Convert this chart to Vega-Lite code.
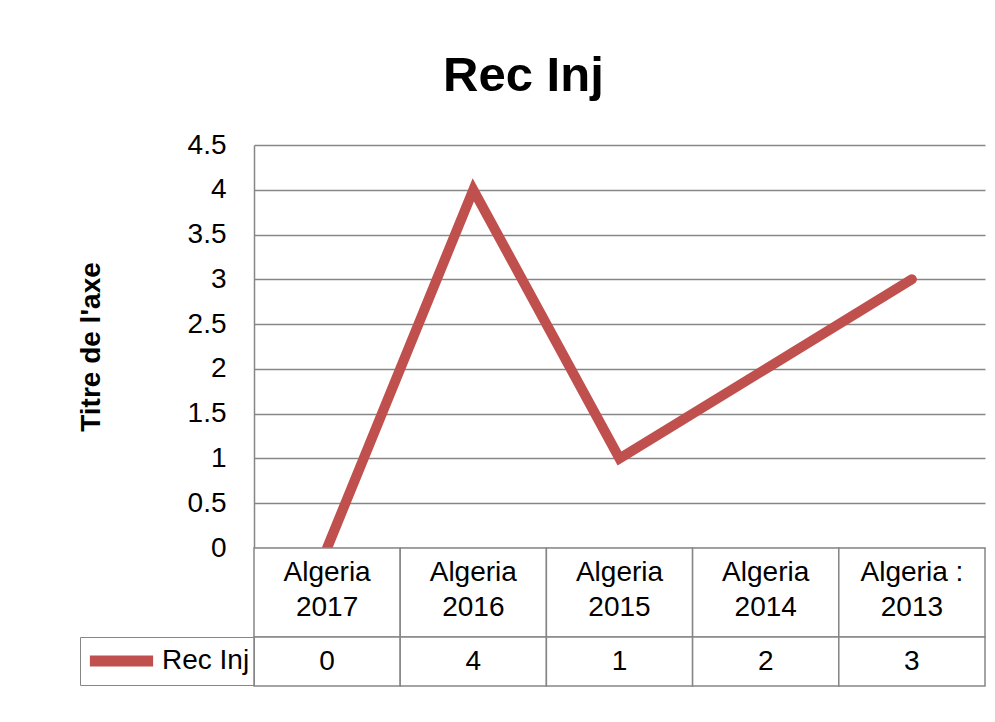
{
  "$schema": "https://vega.github.io/schema/vega-lite/v6.json",
  "background": "white",
  "padding": {"left": 77, "top": 52, "right": 10, "bottom": 10},
  "config": {
    "view": {"stroke": null},
    "font": "Liberation Sans",
    "text": {"font": "Liberation Sans"}
  },
  "title": {
    "text": "Rec Inj",
    "fontSize": 49,
    "fontWeight": "bold",
    "font": "Liberation Sans",
    "color": "black",
    "anchor": "middle",
    "dx": -8,
    "offset": 30
  },
  "data": {
    "values": [
      {"cat": "Algeria\n2017", "value": 0, "series": "Rec Inj"},
      {"cat": "Algeria\n2016", "value": 4, "series": "Rec Inj"},
      {"cat": "Algeria\n2015", "value": 1, "series": "Rec Inj"},
      {"cat": "Algeria\n2014", "value": 2, "series": "Rec Inj"},
      {"cat": "Algeria :\n2013", "value": 3, "series": "Rec Inj"}
    ]
  },
  "spacing": 0,
  "bounds": "flush",
  "resolve": {
    "scale": {"x": "independent", "y": "independent", "color": "independent"},
    "legend": {"color": "independent"}
  },
  "vconcat": [
    {
      "width": 731,
      "height": 403,
      "mark": {"type": "line", "color": "#C0504D", "strokeWidth": 10, "strokeCap": "round", "strokeJoin": "miter"},
      "encoding": {
        "x": {"field": "cat", "type": "nominal", "sort": null, "scale": {"type": "point", "padding": 0.5}, "axis": null},
        "y": {
          "field": "value",
          "type": "quantitative",
          "scale": {"domain": [0, 4.5], "nice": false, "zero": true},
          "axis": {
            "values": [0, 0.5, 1, 1.5, 2, 2.5, 3, 3.5, 4, 4.5],
            "format": "~g",
            "title": "Titre de l'axe",
            "grid": true,
            "gridColor": "#868686",
            "gridWidth": 1.5,
            "domainColor": "#868686",
            "domainWidth": 1.5,
            "ticks": false,
            "labelFontSize": 28,
            "labelColor": "black",
            "labelFont": "Liberation Sans",
            "labelPadding": 28,
            "titleFontSize": 28,
            "titleFont": "Liberation Sans",
            "titleFontWeight": "bold",
            "titleColor": "black",
            "titlePadding": 82
          }
        }
      }
    },
    {
      "width": 731,
      "height": 89,
      "encoding": {
        "x": {"field": "cat", "type": "nominal", "sort": null, "scale": {"type": "band", "paddingInner": 0, "paddingOuter": 0}, "axis": null}
      },
      "layer": [
        {"mark": {"type": "rect", "fill": "white", "stroke": "#868686", "strokeWidth": 1.5}},
        {"mark": {"type": "text", "fontSize": 28, "color": "black", "lineBreak": "\n", "lineHeight": 35, "baseline": "middle", "align": "center", "dy": -20},
         "encoding": {"text": {"field": "cat"}}}
      ]
    },
    {
      "width": 731,
      "height": 49,
      "encoding": {
        "x": {"field": "cat", "type": "nominal", "sort": null, "scale": {"type": "band", "paddingInner": 0, "paddingOuter": 0}, "axis": null}
      },
      "layer": [
        {"mark": {"type": "rect", "fill": "white", "stroke": "#868686", "strokeWidth": 1.5}},
        {"mark": {"type": "text", "fontSize": 28, "color": "black", "baseline": "middle", "align": "center"},
         "encoding": {"text": {"field": "value", "type": "quantitative"}}},
        {"mark": {"type": "line", "opacity": 0},
         "encoding": {
           "color": {
             "field": "series",
             "type": "nominal",
             "scale": {"domain": ["Rec Inj"], "range": ["#C0504D"]},
             "legend": {
               "orient": "left",
               "offset": 0,
               "title": null,
               "symbolType": "stroke",
               "symbolStrokeWidth": 11,
               "symbolSize": 4000,
               "symbolOpacity": 1,
               "labelFontSize": 28,
               "labelFont": "Liberation Sans",
               "labelColor": "black",
               "labelOffset": 3,
               "padding": 4,
               "strokeColor": "#868686",
               "clipHeight": 40
             }
           }
         }}
      ]
    }
  ]
}
